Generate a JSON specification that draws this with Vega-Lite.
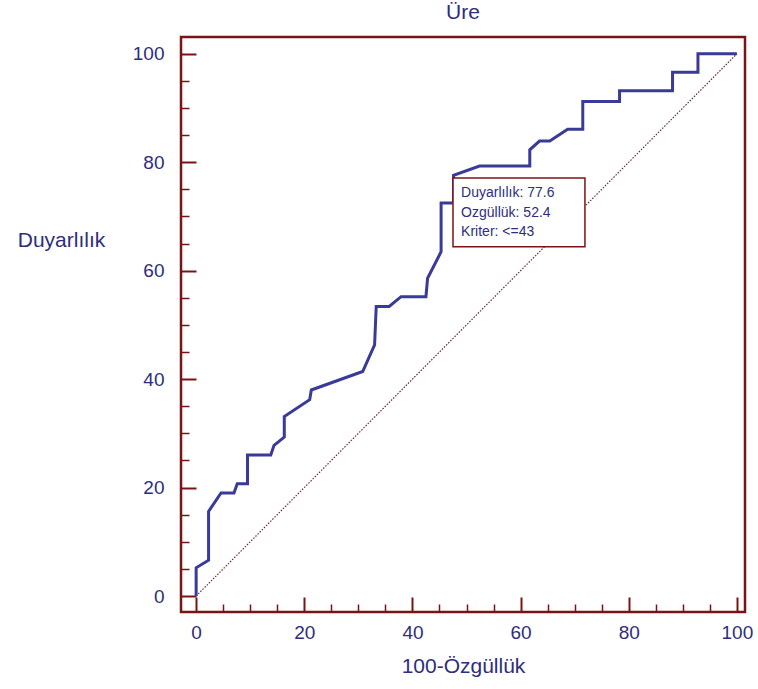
{
  "$schema": "https://vega.github.io/schema/vega-lite/v6.json",
  "width": 564,
  "height": 575,
  "autosize": "none",
  "padding": {"left": 181, "top": 37, "right": 13, "bottom": 77},
  "background": "white",
  "title": {"text": "Üre", "fontSize": 21, "font": "Liberation Sans", "fontWeight": "normal", "color": "#2e2e7a", "offset": 14, "anchor": "middle"},
  "config": {
    "view": {"stroke": "#7a1414", "strokeWidth": 2.5},
    "axis": {"domain": false, "grid": false, "labelFont": "Liberation Sans", "titleFont": "Liberation Sans", "labelColor": "#2e2e7a", "titleColor": "#2e2e7a", "tickColor": "#7a1414", "labelFontSize": 19, "titleFontSize": 21, "titleFontWeight": "normal"}
  },
  "datasets": {
    "roc": [
      {"i": 1, "x": 0, "y": 0},
      {"i": 2, "x": 0, "y": 5.2},
      {"i": 3, "x": 2.3, "y": 6.6},
      {"i": 4, "x": 2.3, "y": 15.6},
      {"i": 5, "x": 4.6, "y": 19.0},
      {"i": 6, "x": 7.0, "y": 19.0},
      {"i": 7, "x": 7.6, "y": 20.7},
      {"i": 8, "x": 9.5, "y": 20.7},
      {"i": 9, "x": 9.5, "y": 26.0},
      {"i": 10, "x": 13.8, "y": 26.0},
      {"i": 11, "x": 14.4, "y": 27.8},
      {"i": 12, "x": 16.3, "y": 29.3},
      {"i": 13, "x": 16.3, "y": 33.1},
      {"i": 14, "x": 21.0, "y": 36.2},
      {"i": 15, "x": 21.3, "y": 38.0},
      {"i": 16, "x": 30.8, "y": 41.4},
      {"i": 17, "x": 33.0, "y": 46.3},
      {"i": 18, "x": 33.3, "y": 53.4},
      {"i": 19, "x": 35.7, "y": 53.4},
      {"i": 20, "x": 37.9, "y": 55.2},
      {"i": 21, "x": 42.5, "y": 55.2},
      {"i": 22, "x": 42.8, "y": 58.6},
      {"i": 23, "x": 45.3, "y": 63.5},
      {"i": 24, "x": 45.3, "y": 72.5},
      {"i": 25, "x": 47.6, "y": 72.5},
      {"i": 26, "x": 47.6, "y": 77.6},
      {"i": 27, "x": 52.4, "y": 79.3},
      {"i": 28, "x": 61.7, "y": 79.3},
      {"i": 29, "x": 61.7, "y": 82.3},
      {"i": 30, "x": 63.5, "y": 83.9},
      {"i": 31, "x": 65.4, "y": 83.9},
      {"i": 32, "x": 68.7, "y": 86.1},
      {"i": 33, "x": 71.5, "y": 86.1},
      {"i": 34, "x": 71.5, "y": 91.2},
      {"i": 35, "x": 78.3, "y": 91.2},
      {"i": 36, "x": 78.3, "y": 93.2},
      {"i": 37, "x": 88.1, "y": 93.2},
      {"i": 38, "x": 88.1, "y": 96.6},
      {"i": 39, "x": 92.8, "y": 96.6},
      {"i": 40, "x": 92.8, "y": 100},
      {"i": 41, "x": 100, "y": 100}
    ],
    "diag": [{"x": 0, "y": 0}, {"x": 100, "y": 100}],
    "box": [{"x": 47.5, "x2": 71.9, "y": 64.4, "y2": 77.1}],
    "notes": [
      {"x": 49.0, "y": 74.3, "t": "Duyarlılık: 77.6"},
      {"x": 49.0, "y": 70.7, "t": "Ozgüllük: 52.4"},
      {"x": 49.0, "y": 67.2, "t": "Kriter: <=43"}
    ]
  },
  "layer": [
    {
      "data": {"name": "diag"},
      "mark": {"type": "line", "color": "#6a2c2c", "strokeWidth": 1.2, "strokeDash": [1.5, 1.5]},
      "encoding": {
        "x": {"field": "x", "type": "quantitative", "scale": {"domain": [-2.8, 101.5], "nice": false, "zero": false},
              "axis": {"orient": "bottom", "values": [0, 20, 40, 60, 80, 100], "labels": false, "tickSize": -15, "tickWidth": 2, "title": null}},
        "y": {"field": "y", "type": "quantitative", "scale": {"domain": [-2.95, 103.1], "nice": false, "zero": false},
              "axis": {"orient": "left", "values": [0, 20, 40, 60, 80, 100], "labels": false, "tickSize": -15, "tickWidth": 2, "title": null}}
      }
    },
    {
      "data": {"name": "roc"},
      "mark": {"type": "line", "color": "#3a3a98", "strokeWidth": 3, "strokeJoin": "miter"},
      "encoding": {
        "x": {"field": "x", "type": "quantitative",
              "axis": {"orient": "bottom", "values": [0, 20, 40, 60, 80, 100], "ticks": false, "labelPadding": 11, "labelFlush": false, "title": "100-Özgüllük", "titleX": 282, "titleY": 54, "titleBaseline": "middle", "titleAnchor": "middle", "titleAlign": "center"}},
        "y": {"field": "y", "type": "quantitative",
              "axis": {"orient": "left", "values": [0, 20, 40, 60, 80, 100], "ticks": false, "labelPadding": 17, "labelFlush": false, "title": "Duyarlılık", "titleAngle": 0, "titleX": -120, "titleY": 203, "titleAlign": "center", "titleBaseline": "middle"}},
        "order": {"field": "i", "type": "quantitative"}
      }
    },
    {
      "data": {"name": "box"},
      "mark": {"type": "rect", "fill": "white", "stroke": "#7a1414", "strokeWidth": 1.5},
      "encoding": {
        "x": {"field": "x", "type": "quantitative",
              "axis": {"orient": "bottom", "values": [5, 10, 15, 25, 30, 35, 45, 50, 55, 65, 70, 75, 85, 90, 95], "labels": false, "tickSize": -8, "tickWidth": 1.5, "title": null}},
        "x2": {"field": "x2"},
        "y": {"field": "y", "type": "quantitative",
              "axis": {"orient": "left", "values": [5, 10, 15, 25, 30, 35, 45, 50, 55, 65, 70, 75, 85, 90, 95], "labels": false, "tickSize": -8, "tickWidth": 1.5, "title": null}},
        "y2": {"field": "y2"}
      }
    },
    {
      "data": {"name": "notes"},
      "mark": {"type": "text", "align": "left", "baseline": "middle", "font": "Liberation Sans", "fontSize": 14, "color": "#2e2e7a"},
      "encoding": {
        "x": {"field": "x", "type": "quantitative", "axis": null},
        "y": {"field": "y", "type": "quantitative", "axis": null},
        "text": {"field": "t"}
      }
    }
  ],
  "resolve": {"axis": {"x": "independent", "y": "independent"}}
}
